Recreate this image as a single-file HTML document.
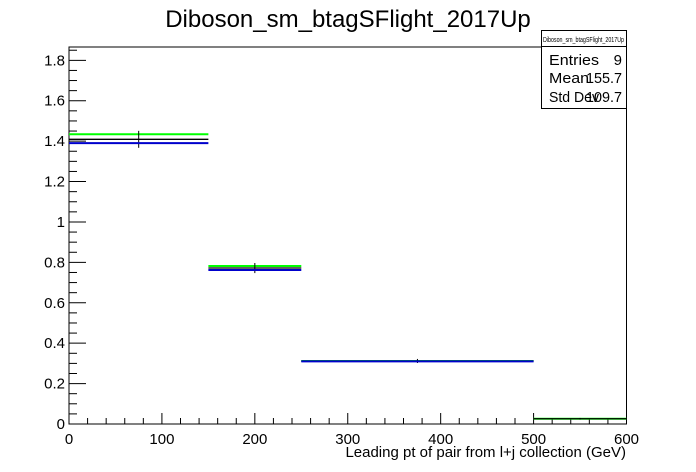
<!DOCTYPE html>
<html><head><meta charset="utf-8"><style>
body{margin:0;background:#fff;}
svg{display:block;font-family:"Liberation Sans",Arial,sans-serif;}
</style></head><body>
<svg id="c" width="696" height="472">
<rect x="0" y="0" width="696" height="472" fill="#fff"/>
<text x="348" y="27" font-size="24" text-anchor="middle">Diboson_sm_btagSFlight_2017Up</text>
<g id="plot"></g>
<g>
<rect x="541.5" y="30.5" width="85" height="78" fill="#fff" stroke="#000" stroke-width="1"/>
<line x1="541.5" y1="46.5" x2="626.5" y2="46.5" stroke="#000"/>
<text x="543" y="42" font-size="7" textLength="81" lengthAdjust="spacingAndGlyphs">Diboson_sm_btagSFlight_2017Up</text>
<text x="549" y="65" font-size="15" textLength="50" lengthAdjust="spacingAndGlyphs">Entries</text>
<text x="622" y="65" font-size="15" text-anchor="end">9</text>
<text x="549" y="83" font-size="15" textLength="40" lengthAdjust="spacingAndGlyphs">Mean</text>
<text x="586" y="83" font-size="15" textLength="36" lengthAdjust="spacingAndGlyphs">155.7</text>
<text x="549" y="102" font-size="15" textLength="50" lengthAdjust="spacingAndGlyphs">Std Dev</text>
<text x="586" y="102" font-size="15" textLength="36" lengthAdjust="spacingAndGlyphs">109.7</text>
</g>
<text x="626" y="457" font-size="15" text-anchor="end">Leading pt of pair from l+j collection (GeV)</text>
</svg>
<script>
const binEdges=[0,150,250,500,600];
const nominal=[1.409,0.772,0.312,0.026];
const nominalErr=[0.042,0.025,0.01,0.004];
const upVals=[1.434,0.782,0.312,0.026];
const downVals=[1.390,0.762,0.310,0.026];
const xTicks=[0,100,200,300,400,500,600];
const yTicks=[0,0.2,0.4,0.6,0.8,1,1.2,1.4,1.6,1.8];
const yTickLabels=["0","0.2","0.4","0.6","0.8","1","1.2","1.4","1.6","1.8"];

const L=69,R=626.5,B=424,T=47,XMAX=600,YMAX=1.866;
const sx=v=>L+(R-L)*v/XMAX;
const sy=v=>B-(B-T)*v/YMAX;
const NS="http://www.w3.org/2000/svg";
const g=document.getElementById('plot');
function mk(tag,attrs){const e=document.createElementNS(NS,tag);for(const k in attrs)e.setAttribute(k,attrs[k]);g.appendChild(e);return e;}
let e=mk('rect',{x:L,y:T,width:R-L,height:B-T,fill:'none',stroke:'#000','stroke-width':1});


for(let v=0;v<=XMAX;v+=20){
 const major=v%100===0;
 e=mk('line',{x1:sx(v),x2:sx(v),y1:B,y2:B-(major?11:6),stroke:'#000'});
 
 
}
xTicks.forEach(v=>{
 e=mk('text',{x:sx(v),y:B+20,'font-size':15,'text-anchor':'middle'});e.textContent=String(v);
 
 
});
for(let i=0;i*0.05<=YMAX;i++){
 const v=i*0.05,major=i%4===0;
 e=mk('line',{x1:L,x2:L+(major?17:8),y1:sy(v),y2:sy(v),stroke:'#000'});
 
 
}
yTicks.forEach((v,i)=>{
 e=mk('text',{x:L-4,y:sy(v)+5,'font-size':15,'text-anchor':'end'});e.textContent=yTickLabels[i];
 
 
});
function series(vals,color,name,w){
 vals.forEach((v,i)=>{
  e=mk('line',{x1:sx(binEdges[i]),x2:sx(binEdges[i+1]),y1:sy(v),y2:sy(v),stroke:color,'stroke-width':w});
  
  
 });
}
series(upVals,'#00ff00','up-variation',2);
nominal.forEach((v,i)=>{
 e=mk('line',{x1:sx(binEdges[i]),x2:sx(binEdges[i+1]),y1:sy(v),y2:sy(v),stroke:'#000','stroke-width':1.3});
 
 
 const xc=sx((binEdges[i]+binEdges[i+1])/2);
 e=mk('line',{x1:xc,x2:xc,y1:sy(v+nominalErr[i]),y2:sy(v-nominalErr[i]),stroke:'#000','stroke-width':1});
 
 
});
series(downVals.slice(0,3),'#0000cc','down-variation',2);
</script>
</body></html>
